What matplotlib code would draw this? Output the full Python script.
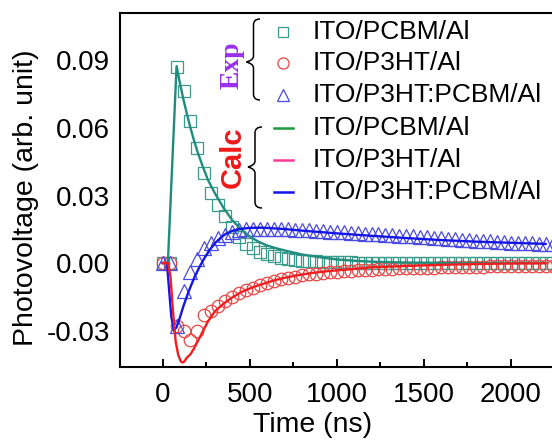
import matplotlib
matplotlib.use('Agg')
import matplotlib.pyplot as plt
from matplotlib.path import Path
from matplotlib.patches import PathPatch
from matplotlib.lines import Line2D
from matplotlib.ticker import FixedLocator

plt.rcParams['font.family'] = ['Liberation Sans', 'DejaVu Sans']

# ---------------- data ----------------
t_exp = [0, 40, 80, 120, 160, 200, 240, 280, 320, 360, 400, 440, 480, 520, 560,
         600, 640, 680, 720, 760, 800, 840, 880, 920, 960, 1000, 1040, 1080, 1120,
         1160, 1200, 1240, 1280, 1320, 1360, 1400, 1440, 1480, 1520, 1560, 1600,
         1640, 1680, 1720, 1760, 1800, 1840, 1880, 1920, 1960, 2000, 2040, 2080,
         2120, 2160, 2200, 2240]

exp_pcbm = [0.0, 0.0, 0.087, 0.0765, 0.063, 0.051, 0.040, 0.031, 0.026, 0.021,
            0.016, 0.0115, 0.0085, 0.0065, 0.005, 0.0038, 0.003, 0.0024, 0.0018,
            0.0014, 0.0011, 0.0009, 0.0007, 0.0006, 0.0005, 0.0004, 0.0003, 0.0003,
            0.0002, 0.0002, 0.0002, 0.0001, 0.0001, 0.0001, 0.0001, 0.0001, 0.0,
            0.0, 0.0, 0.0, 0.0, 0.0, 0.0, 0.0, 0.0, 0.0, 0.0, 0.0, 0.0, 0.0, 0.0,
            0.0, 0.0, 0.0, 0.0, 0.0, 0.0]

exp_p3ht = [0.0, 0.0, -0.028, -0.030, -0.034, -0.030, -0.023, -0.0215, -0.019,
            -0.017, -0.015, -0.0133, -0.012, -0.011, -0.0098, -0.0088, -0.008,
            -0.0073, -0.0066, -0.006, -0.0055, -0.005, -0.0047, -0.0044, -0.0041,
            -0.0038, -0.0036, -0.0034, -0.0032, -0.003, -0.0029, -0.0028, -0.0026,
            -0.0025, -0.0024, -0.0023, -0.0022, -0.0021, -0.002, -0.002, -0.0019,
            -0.0018, -0.0018, -0.0017, -0.0017, -0.0016, -0.0016, -0.0015, -0.0015,
            -0.0014, -0.0014, -0.0013, -0.0013, -0.0012, -0.0012, -0.0011, -0.0011]

exp_blend = [0.0, 0.0, -0.028, -0.0125, -0.004, 0.002, 0.0065, 0.0088, 0.011,
             0.0125, 0.0138, 0.0145, 0.015, 0.0152, 0.0153, 0.0153, 0.0152, 0.0151,
             0.015, 0.0148, 0.0147, 0.0145, 0.0143, 0.0142, 0.014, 0.0138, 0.0136,
             0.0134, 0.0132, 0.013, 0.0128, 0.0127, 0.0125, 0.0123, 0.0122, 0.012,
             0.0118, 0.0116, 0.0114, 0.0112, 0.011, 0.0108, 0.0106, 0.0104, 0.0102,
             0.01, 0.0098, 0.0096, 0.0094, 0.0093, 0.0091, 0.009, 0.0088, 0.0087,
             0.0085, 0.0084, 0.0083]

t_calc_pcbm = [0, 30, 80, 100, 120, 140, 160, 180, 200, 230, 260, 300, 350, 400,
               450, 500, 550, 600, 650, 700, 800, 900, 1000, 1100, 1200, 1400,
               1600, 1800, 2000, 2200]
calc_pcbm = [0.0, 0.0, 0.0875, 0.0796, 0.0725, 0.066, 0.060, 0.0545, 0.0495,
             0.043, 0.037, 0.031, 0.0245, 0.019, 0.015, 0.0118, 0.0095, 0.0078,
             0.0066, 0.0056, 0.0038, 0.0026, 0.0016, 0.001, 0.0006, 0.0002,
             0.0001, 0.0, 0.0, 0.0]

t_calc_p3ht = [0, 30, 45, 60, 75, 90, 105, 115, 125, 140, 160, 180, 200, 230,
               260, 300, 330, 360, 400, 450, 500, 550, 600, 650, 700, 770, 850,
               950, 1060, 1200, 1440, 1600, 1825, 2000, 2200]
calc_p3ht = [0.0, 0.0, -0.006, -0.022, -0.035, -0.041, -0.0438, -0.0442, -0.0437,
             -0.042, -0.0405, -0.038, -0.035, -0.0305, -0.026, -0.0215, -0.0194,
             -0.0175, -0.0153, -0.013, -0.0113, -0.0099, -0.0087, -0.0075, -0.0066,
             -0.0055, -0.0045, -0.0036, -0.0029, -0.0019, -0.0012, -0.0008,
             -0.0004, -0.0002, -0.0001]

t_calc_blend = [0, 25, 35, 50, 65, 80, 100, 120, 150, 180, 210, 240, 270, 300,
                330, 360, 400, 450, 500, 550, 600, 700, 800, 900, 1000, 1200, 1400,
                1600, 1800, 2000, 2200]
calc_blend = [0.0, 0.0, -0.01, -0.024, -0.0298, -0.0285, -0.024, -0.019, -0.0125,
              -0.0068, -0.002, 0.0022, 0.0058, 0.0088, 0.011, 0.0128, 0.0143,
              0.0152, 0.0156, 0.0157, 0.0156, 0.0151, 0.0144, 0.0138, 0.0132,
              0.0121, 0.0111, 0.0102, 0.0095, 0.009, 0.0085]

legend_labels = ['ITO/PCBM/Al', 'ITO/P3HT/Al', 'ITO/P3HT:PCBM/Al',
                 'ITO/PCBM/Al', 'ITO/P3HT/Al', 'ITO/P3HT:PCBM/Al']

# ---------------- figure ----------------
W, H = 552, 446
fig = plt.figure(figsize=(W / 100, H / 100), dpi=100)
ax = fig.add_axes([120 / W, 1 - 367 / H, (563 - 120) / W, (367 - 13) / H])

c_sq = '#3a9a8c'
c_ci = '#e84646'
c_tr = '#4a4ae0'
c_lt = '#1f8c7e'
c_lr = '#f01e1e'
c_lb = '#1414e6'

ms_sq, ms_ci, ms_tr = 8.3, 9.0, 9.8

ax.plot(t_exp, exp_pcbm, ls='none', marker='s', ms=ms_sq, mfc='none', mec=c_sq, mew=0.9, zorder=2)
ax.plot(t_exp, exp_p3ht, ls='none', marker='o', ms=ms_ci, mfc='none', mec=c_ci, mew=0.9, zorder=2)
ax.plot(t_exp, exp_blend, ls='none', marker='^', ms=ms_tr, mfc='none', mec=c_tr, mew=0.9, zorder=2)

ax.plot(t_calc_pcbm, calc_pcbm, color=c_lt, lw=1.7, zorder=3)
ax.plot(t_calc_blend, calc_blend, color=c_lb, lw=1.7, zorder=3)
ax.plot(t_calc_p3ht, calc_p3ht, color=c_lr, lw=1.7, zorder=3)

ax.set_xlim(-245, 2300)
ax.set_ylim(-0.0462, 0.1111)
ax.xaxis.set_major_locator(FixedLocator([0, 500, 1000, 1500, 2000]))
ax.xaxis.set_minor_locator(FixedLocator([250, 750, 1250, 1750]))
ax.yaxis.set_major_locator(FixedLocator([-0.03, 0.0, 0.03, 0.06, 0.09]))
ax.set_xticklabels(['0', '500', '1000', '1500', '2000'])
ax.set_yticklabels(['-0.03', '0.00', '0.03', '0.06', '0.09'])
ax.tick_params(axis='x', which='major', direction='in', length=6, width=1.4,
               labelsize=20, pad=11)
ax.tick_params(axis='x', which='minor', direction='in', length=3.5, width=1.4)
ax.tick_params(axis='y', which='both', length=0, labelsize=20, pad=7)
for s in ax.spines.values():
    s.set_linewidth(1.5)

fig.text(25.6 / W, 1 - 197.5 / H, 'Photovoltage (arb. unit)', rotation=90,
         ha='center', va='center', fontsize=20.5)
fig.text(313 / W, 1 - 425 / H, 'Time (ns)', ha='center', va='center', fontsize=20.5)

# ---------------- custom legend ----------------
T = fig.dpi_scale_trans


def P(x, y):
    return (x / 100, (H - y) / 100)


rows = [32, 63, 95, 128, 160, 192]
mk = [('s', c_sq, 7.2), ('o', c_ci, 8.0), ('^', c_tr, 8.5)]
for i in range(3):
    m, c, s = mk[i]
    x0, y0 = P(283, rows[i])
    fig.add_artist(Line2D([x0], [y0], transform=T, ls='none', marker=m, ms=s,
                          mfc='none', mec=c, mew=0.9))
for i, c in enumerate(['#1a9a3a', '#ff3a96', c_lb]):
    xa, ya = P(274, rows[3 + i])
    xb, yb = P(293, rows[3 + i])
    fig.add_artist(Line2D([xa, xb], [ya, yb], transform=T, color=c, lw=1.8))
for i, lab in enumerate(legend_labels):
    fig.text(313 / W, 1 - rows[i] / H, lab, ha='left', va='center', fontsize=19)


def brace(xv, xtip, xend, ytop, ymid, ybot, r=6):
    pts = [P(xend, ytop), P(xv, ytop), P(xv, ytop + r), P(xv, ytop + r),
           P(xv, ymid - r), P(xv, ymid - 2), P(xtip, ymid), P(xtip, ymid),
           P(xv, ymid + 2), P(xv, ymid + r), P(xv, ybot - r), P(xv, ybot - r),
           P(xv, ybot), P(xend, ybot)]
    codes = [Path.MOVETO, Path.CURVE3, Path.CURVE3, Path.LINETO,
             Path.LINETO, Path.CURVE3, Path.CURVE3, Path.LINETO,
             Path.CURVE3, Path.CURVE3, Path.LINETO, Path.LINETO,
             Path.CURVE3, Path.CURVE3]
    fig.add_artist(PathPatch(Path(pts, codes), transform=T, fc='none',
                             ec='black', lw=1.1))


brace(253.5, 246.5, 260, 19, 62, 100)
brace(255, 248, 262, 127, 167, 208)

fig.text(232 / W, 1 - 65 / H, 'Exp', rotation=90, ha='center', va='center',
         fontsize=20, fontweight='bold', color='#9a30f0',
         family=['Liberation Serif', 'DejaVu Serif'])
fig.text(233 / W, 1 - 157 / H, 'Calc', rotation=90, ha='center', va='center',
         fontsize=21, fontweight='bold', color='#f01818')

fig.savefig('out.png', dpi=100)
